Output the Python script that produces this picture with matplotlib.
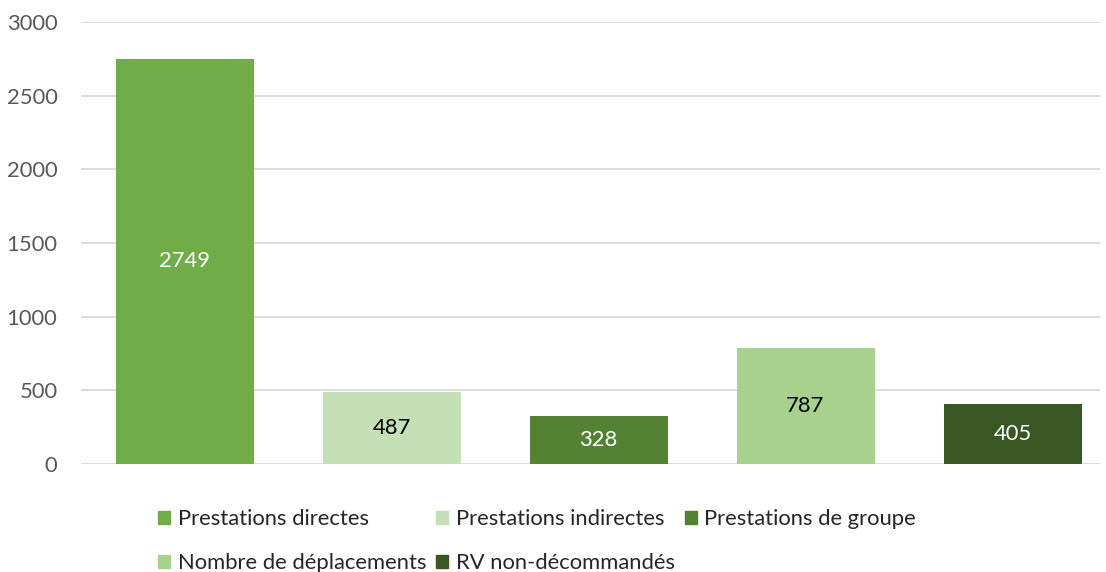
import matplotlib
matplotlib.use("Agg")
import matplotlib.pyplot as plt
from matplotlib.patches import Patch

categories = ["Prestations directes", "Prestations indirectes", "Prestations de groupe",
              "Nombre de déplacements", "RV non-décommandés"]
values = [2749, 487, 328, 787, 405]
colors = ["#70AD47", "#C5E0B4", "#548235", "#A9D18E", "#385723"]
label_colors = ["white", "black", "white", "black", "white"]
yticks = [0, 500, 1000, 1500, 2000, 2500, 3000]

plt.rcParams['font.family'] = ['Lato', 'DejaVu Sans']
FS = 15.8

fig = plt.figure(figsize=(11.06, 5.72), dpi=100)
ax = fig.add_axes([81/1106, 1-464/572, (1100-81)/1106, (464-22)/572])

x = list(range(len(values)))
bars = ax.bar(x, values, width=138/207, color=colors, zorder=3)
for b, v, lc in zip(bars, values, label_colors):
    ax.text(b.get_x()+b.get_width()/2, v/2, str(v), ha='center', va='center',
            color=lc, fontsize=FS, zorder=4)

ax.set_xlim(-0.5, -0.5 + (1100-81)/207)
ax.set_ylim(0, 3000)
ax.set_yticks(yticks)
ax.set_yticklabels([str(t) for t in yticks], fontsize=FS, color="#595959")
ax.set_xticks([])
ax.tick_params(axis='y', length=0, pad=17)
ax.grid(axis='y', color="#D9D9D9", linewidth=1.3, zorder=0)
for s in ax.spines.values():
    s.set_visible(False)

handles = [Patch(color=c, label=l) for c, l in zip(colors, categories)]
order = [0, 3, 1, 4, 2]
leg = fig.legend([handles[i] for i in order], [categories[i] for i in order],
                 ncol=3, loc='upper left', bbox_to_anchor=(158/1106, 1-509/572),
                 frameon=False, fontsize=FS, handlelength=0.55, handleheight=0.55,
                 handletextpad=0.35, columnspacing=0.45, labelspacing=1.1,
                 borderaxespad=0, borderpad=0)
for t in leg.get_texts():
    t.set_color("#262626")

fig.savefig("out.png", dpi=100)
